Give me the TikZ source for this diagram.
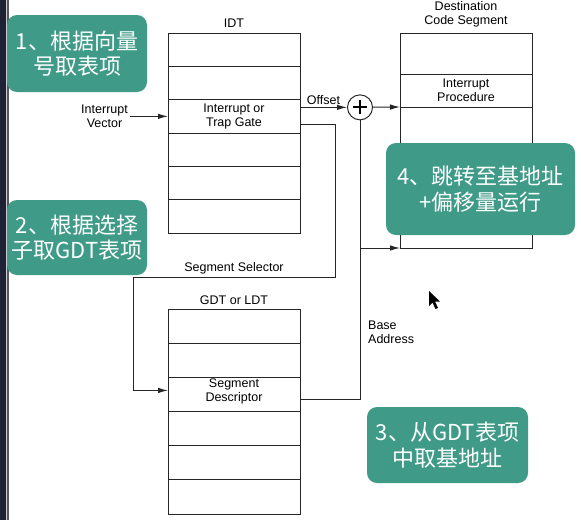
\documentclass[tikz,border=0pt]{standalone}
\usepackage{fontspec}
\setmainfont{Liberation Sans}
\newfontfamily\cjk{Noto Sans CJK SC}
\usepackage{tikz}
\usetikzlibrary{positioning,arrows.meta}
\definecolor{notegreen}{RGB}{63,155,136}
\definecolor{barnavy}{RGB}{30,34,52}
\tikzset{>={Latex[length=10pt,width=5.5pt]}}
\tikzset{
  entry/.style={draw=black!85, line width=1pt, minimum width=132pt,
    inner sep=0pt, outer sep=0pt},
  lbl/.style={font=\fontsize{12.5}{14}\selectfont, align=center, inner sep=2pt},
  wire/.style={draw=black!85, line width=1pt},
  stepnote/.style={fill=notegreen, rounded corners=10pt, text=white,
    align=center, font=\cjk\fontsize{22}{25.5}\selectfont},
}

\begin{document}
\begin{tikzpicture}[x=1pt, y=-1pt]
  \useasboundingbox (0,0) rectangle (581,520);
  \fill[white] (0,0) rectangle (581,520);
  \fill[barnavy] (0,0) rectangle (6,520);
  \fill[black!20] (6,0) rectangle (7,520);
  \fill[black!65] (7,0) rectangle (9,520);

  % Nodes
  \node[entry, minimum height=33.33pt] (idt1) at (234,49.7) {};
  \foreach \i [count=\j from 2] in {1,...,5}
    \node[entry, minimum height=33.33pt, below=0pt of idt\i] (idt\j) {};
  \node[lbl, above=3pt of idt1]        (idtname)  {IDT};
  \node[lbl]                 at (idt3) (gate)     {Interrupt or\\Trap Gate};
  \node[lbl, left=38pt of idt3.west]   (vector)   {Interrupt\\Vector};

  \node[entry, minimum height=41pt]  (code1) at (466,53.5) {};
  \node[entry, minimum height=33pt, below=0pt of code1]  (code2) {};
  \node[entry, minimum height=141pt, below=0pt of code2] (code3) {};
  \node[lbl, above=4pt of code1]       (codename) {Destination\\Code Segment};
  \node[lbl]                 at (code2) (proc)    {Interrupt\\Procedure};

  \node[draw=black!85, line width=1pt, circle, minimum size=25pt, inner sep=0pt]
    (plus) at ([xshift=60pt,yshift=9pt]idt3.east) {};
  \draw[line width=2pt] ([xshift=-7pt]plus.center) -- ([xshift=7pt]plus.center)
    ([yshift=-7pt]plus.center) -- ([yshift=7pt]plus.center);

  \node[entry, minimum height=34.17pt] (gdt1) at (234,326.1) {};
  \foreach \i [count=\j from 2] in {1,...,5}
    \node[entry, minimum height=34.17pt, below=0pt of gdt\i] (gdt\j) {};
  \node[lbl, above=2pt of gdt1]        (gdtname)  {GDT or LDT};
  \node[lbl, yshift=3pt]     at (gdt3) (desc)     {Segment\\Descriptor};

  \coordinate (selR) at (335,277);
  \coordinate (selL) at (133,277);

  % Edges
  \draw[wire,->] (vector) -- (idt3.west);
  \draw[wire,->] ([yshift=9pt]idt3.east) -- node[lbl, above] {Offset} (plus);
  \draw[wire,->] (plus) -- (code2.south west);
  \draw[wire,->] ([yshift=-8pt]idt3.east) -| (selR)
    -- node[lbl, above] {Segment Selector} (selL) |- ([yshift=4pt]gdt3.west);
  \draw[wire] ([yshift=-5pt]gdt3.east) -| (plus.south);
  \draw[wire,->] (plus.south |- code3.south) -- (code3.south west);
  \node[lbl, anchor=north west, align=left] (base) at (366,319) {Base\\Address};

  % Notes
  \node[stepnote, minimum width=140pt, minimum height=77pt] (note1) at (77,53.5)
    {1、根据向量\\号取表项};
  \node[stepnote, minimum width=140pt, minimum height=75pt] (note2) at (77,237.5)
    {2、根据选择\\子取GDT表项};
  \node[stepnote, minimum width=161pt, minimum height=76pt] (note3) at (447.5,445)
    {3、从GDT表项\\中取基地址};
  \node[stepnote, minimum width=189pt, minimum height=92pt] (note4) at (480.5,189)
    {4、跳转至基地址\\+偏移量运行};

  % cursor
  \fill (429,291) -- (429,306) -- (432.5,302.5) -- (435.5,309) -- (438,308)
    -- (435,301.5) -- (440,301.5) -- cycle;

\end{tikzpicture}
\end{document}
